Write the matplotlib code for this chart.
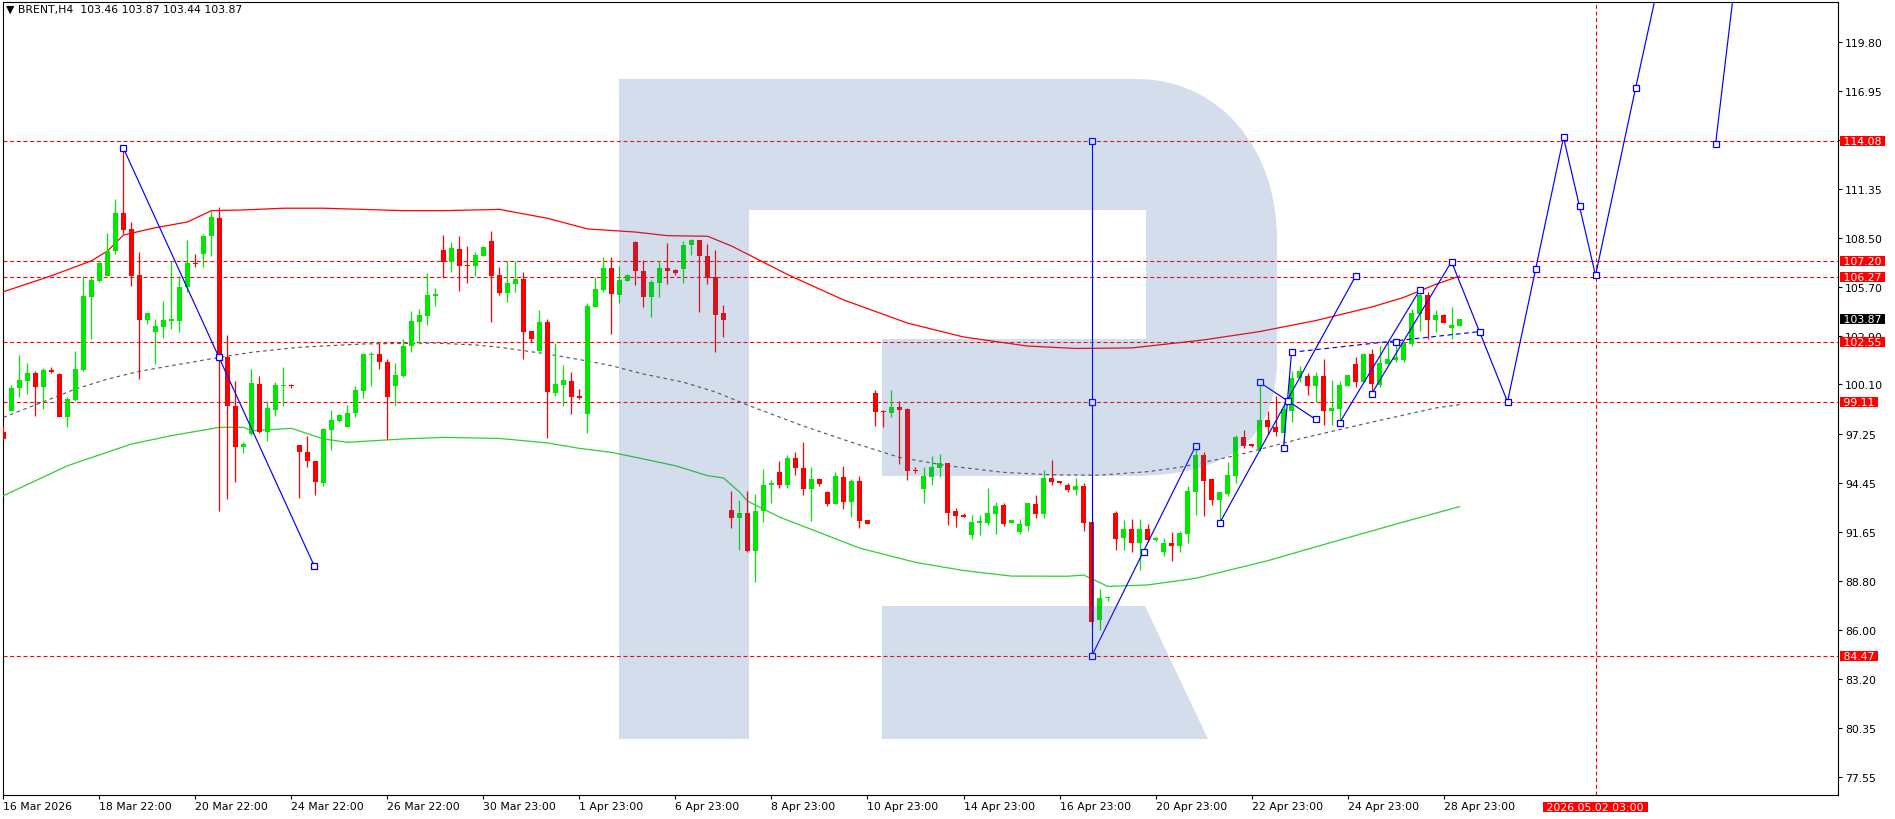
import numpy as np
import matplotlib.pyplot as plt
from matplotlib.path import Path
from matplotlib.patches import PathPatch

plt.rcParams["font.family"] = ["DejaVu Sans"]

W, H = 1895, 820
FONT = 7.8
RED = "#ff0000"
GREEN = "#00e600"
BLUE = "#0000ff"

# ── OHLC (H4 bars, index 0 = 16 Mar 2026) ─────────────
OPEN = [97.35, 98.59, 99.88, 100.32, 100.76, 99.97, 100.93, 100.70, 98.25, 99.21,
        100.93, 105.14, 106.06, 106.32, 107.79, 109.96, 109.04, 106.39, 103.82, 103.10,
        103.42, 103.77, 103.77, 105.68, 107.08, 107.60, 108.62, 109.67, 101.66, 98.85,
        96.49, 97.25, 100.13, 97.35, 98.65, 99.99, 100.07, 96.62, 96.20, 95.69,
        94.44, 97.48, 98.02, 97.67, 98.44, 99.74, 101.79, 101.85, 101.37, 100.03,
        100.57, 102.33, 103.67, 104.05, 105.20, 107.83, 107.12, 107.89, 106.97, 106.89,
        107.50, 108.35, 106.39, 105.36, 105.87, 106.16, 103.19, 102.04, 103.71, 99.61,
        100.07, 100.32, 99.44, 98.40, 104.57, 105.53, 106.79, 105.26, 106.06, 108.31,
        106.62, 105.14, 105.93, 106.79, 106.70, 106.74, 108.12, 108.40, 107.48, 106.29,
        104.21, 92.89, 92.43, 92.71, 90.55, 92.81, 94.30, 95.05, 94.32, 95.87,
        95.30, 94.09, 94.67, 93.90, 93.23, 94.78, 93.36, 94.53, 92.29, 99.61,
        98.58, 98.46, 98.81, 98.69, 95.19, 94.09, 94.80, 95.30, 95.59, 92.81,
        92.62, 91.47, 92.16, 92.14, 92.66, 93.19, 92.16, 91.60, 91.98, 93.23,
        92.66, 94.73, 94.55, 94.32, 94.05, 94.26, 92.20, 86.56, 87.81, 92.71,
        91.28, 91.79, 91.01, 91.79, 91.18, 90.49, 91.01, 90.83, 91.51, 93.94,
        96.05, 94.67, 93.48, 93.81, 94.86, 97.06, 96.68, 96.39, 98.06, 97.64,
        97.31, 98.59, 100.46, 100.60, 100.03, 100.60, 98.59, 98.69, 100.03, 101.28,
        100.26, 101.85, 100.07, 101.28, 101.51, 101.51, 102.43, 104.15, 105.26, 103.82,
        104.09, 103.35, 103.46]
HIGH = [97.73, 100.07, 101.79, 101.32, 100.89, 101.03, 101.09, 100.75, 99.36, 102.01,
        106.35, 106.35, 107.16, 108.81, 110.76, 113.67, 109.42, 107.70, 104.19, 103.86,
        104.91, 107.21, 106.35, 108.40, 107.60, 108.75, 110.09, 110.28, 102.94, 100.32,
        96.78, 100.99, 100.57, 99.17, 100.23, 101.12, 100.13, 96.62, 97.12, 95.72,
        97.58, 98.63, 98.40, 98.92, 99.99, 101.91, 101.95, 102.47, 101.56, 101.33,
        102.71, 104.31, 104.44, 106.49, 105.63, 108.69, 108.31, 108.65, 108.08, 107.73,
        108.08, 108.92, 106.83, 107.21, 107.21, 106.55, 103.19, 104.38, 103.86, 102.48,
        101.22, 100.83, 99.84, 104.78, 106.26, 107.44, 107.44, 106.93, 106.45, 108.36,
        107.25, 106.10, 107.21, 108.23, 106.74, 108.33, 108.46, 108.42, 108.17, 107.83,
        104.67, 94.00, 93.46, 94.00, 93.81, 95.24, 94.61, 95.69, 96.05, 96.20,
        96.78, 95.34, 94.73, 93.96, 95.07, 95.42, 94.67, 94.84, 92.29, 99.78,
        98.63, 99.78, 99.13, 98.75, 95.37, 95.37, 95.97, 96.10, 95.59, 93.00,
        92.71, 92.62, 92.62, 94.15, 93.33, 93.29, 92.31, 92.37, 93.29, 93.77,
        95.20, 95.76, 94.57, 94.42, 94.71, 94.44, 92.26, 88.35, 87.93, 92.81,
        92.31, 92.37, 92.37, 92.08, 91.32, 91.26, 91.60, 91.70, 94.25, 96.55,
        96.24, 94.71, 93.94, 95.66, 97.21, 97.48, 96.68, 100.23, 98.59, 99.46,
        99.02, 100.89, 101.18, 100.76, 100.80, 101.56, 100.36, 100.32, 100.64, 101.66,
        101.91, 102.14, 102.33, 102.62, 102.71, 102.47, 104.44, 105.49, 105.40, 104.38,
        104.15, 104.55, 103.87]
LOW = [96.97, 98.59, 99.40, 99.55, 98.31, 98.69, 100.76, 98.21, 97.64, 99.17,
       100.89, 102.71, 106.01, 106.32, 107.60, 108.75, 105.78, 100.41, 103.58, 101.28,
       102.75, 103.29, 103.13, 105.40, 106.83, 106.83, 107.50, 92.81, 93.52, 94.48,
       96.14, 97.20, 97.29, 96.87, 98.27, 98.88, 99.88, 93.56, 95.34, 93.77,
       94.28, 96.35, 97.96, 97.64, 98.21, 99.32, 99.99, 100.99, 96.97, 98.94,
       100.51, 101.98, 102.43, 103.52, 104.63, 106.20, 106.58, 105.49, 105.91, 106.35,
       107.50, 103.67, 105.24, 104.86, 105.43, 101.56, 102.52, 102.04, 97.02, 99.46,
       98.88, 98.40, 99.27, 97.31, 104.57, 105.43, 103.00, 104.78, 106.04, 105.82,
       104.57, 104.00, 105.14, 105.87, 106.39, 105.93, 107.54, 104.28, 105.87, 101.98,
       102.85, 91.85, 90.59, 90.49, 88.77, 92.21, 93.29, 94.15, 94.15, 94.90,
       93.77, 92.27, 94.29, 93.13, 93.23, 92.94, 92.50, 91.85, 92.08, 97.73,
       97.67, 98.25, 95.53, 94.63, 95.00, 93.29, 94.32, 94.77, 92.02, 91.93,
       92.50, 91.22, 91.47, 92.00, 91.51, 91.98, 92.16, 91.51, 91.70, 92.43,
       92.43, 94.32, 94.38, 93.94, 93.77, 91.70, 86.30, 86.01, 87.67, 90.59,
       90.59, 90.45, 89.46, 91.03, 91.12, 90.26, 89.97, 90.49, 91.01, 92.60,
       92.56, 93.17, 92.14, 93.67, 94.44, 96.43, 96.52, 96.29, 97.25, 97.16,
       96.78, 97.96, 100.23, 99.50, 99.11, 97.79, 97.79, 97.93, 100.03, 99.94,
       100.23, 99.55, 99.94, 101.28, 101.37, 101.41, 102.29, 103.19, 102.71, 103.10,
       103.63, 102.71, 103.44]
CLOSE = [96.97, 99.88, 100.36, 100.76, 99.97, 100.93, 100.83, 98.25, 99.27, 100.99,
         105.20, 106.10, 107.08, 107.79, 109.96, 109.00, 106.32, 103.82, 104.19, 103.44,
         103.82, 103.82, 105.68, 107.08, 107.02, 108.62, 109.71, 101.66, 98.85, 96.49,
         96.68, 100.19, 97.35, 98.73, 100.07, 100.07, 99.99, 96.20, 95.69, 94.48,
         97.54, 98.06, 98.36, 98.46, 99.78, 101.85, 101.85, 101.37, 99.40, 100.64,
         102.33, 103.77, 104.09, 105.24, 105.28, 107.12, 107.93, 106.93, 106.89, 107.54,
         108.02, 106.35, 105.36, 105.93, 106.16, 103.13, 102.71, 103.71, 99.69, 100.13,
         100.36, 99.38, 99.34, 104.63, 105.59, 106.79, 105.30, 106.10, 106.41, 106.64,
         105.14, 105.97, 106.79, 106.64, 106.51, 108.12, 108.42, 107.48, 106.24, 104.11,
         103.81, 92.43, 92.71, 90.51, 92.81, 94.32, 94.44, 94.32, 95.87, 95.28,
         94.09, 94.67, 94.38, 93.23, 94.84, 93.36, 94.55, 92.27, 92.08, 98.54,
         98.50, 98.81, 98.65, 95.14, 95.14, 94.84, 95.37, 95.57, 92.71, 92.56,
         92.50, 92.18, 92.27, 92.71, 93.13, 92.08, 92.31, 92.08, 93.29, 92.66,
         94.73, 94.51, 94.42, 94.05, 94.26, 92.14, 86.47, 87.83, 87.85, 91.22,
         91.79, 91.01, 91.79, 91.16, 91.26, 91.01, 90.83, 91.56, 93.96, 96.05,
         94.57, 93.48, 93.90, 94.90, 97.10, 96.58, 96.58, 98.06, 97.64, 97.35,
         98.69, 100.46, 100.86, 100.03, 100.60, 98.59, 98.73, 100.07, 100.64, 100.23,
         101.85, 100.13, 101.33, 101.56, 101.70, 102.47, 104.21, 105.26, 103.82, 104.09,
         103.65, 103.52, 103.87]

# ── envelope / moving average (read at sample bars) ──
RED_MA_X = [0, 6, 11, 13, 15, 19, 23, 26, 30, 35, 40, 50, 55, 62, 68, 73, 79, 83, 88,
            91, 98, 105, 113, 120, 128, 134, 141, 150, 157, 164, 171, 175, 179, 182]
RED_MA_Y = [105.43, 106.35, 107.21, 107.77, 108.69, 109.11, 109.44, 110.09, 110.13,
            110.23, 110.23, 110.09, 110.09, 110.16, 109.65, 109.04, 108.86, 108.65,
            108.62, 108.06, 106.42, 104.96, 103.63, 102.83, 102.31, 102.17, 102.20,
            102.66, 103.14, 103.77, 104.55, 105.10, 105.85, 106.33]
GREEN_MA_X = [0, 8, 16, 21, 27, 30, 31, 36, 40, 43, 50, 55, 62, 68, 72, 76, 80, 84, 88,
              90, 92, 93, 97, 101, 107, 114, 120, 126, 133, 135, 137, 138, 143, 149,
              158, 166, 175, 182]
GREEN_MA_Y = [93.71, 95.43, 96.68, 97.16, 97.64, 97.64, 97.44, 97.58, 96.97, 96.78,
              96.97, 97.06, 97.00, 96.74, 96.43, 96.20, 95.82, 95.43, 94.86, 94.73,
              93.92, 93.40, 92.48, 91.77, 90.70, 89.88, 89.41, 89.09, 89.08, 89.15,
              88.73, 88.50, 88.58, 88.96, 89.97, 91.03, 92.20, 93.08]
MID_MA_X = [0, 5, 9, 13, 17, 21, 27, 31, 37, 45, 54, 59, 62, 68, 73, 76, 80, 85, 89,
            93, 100, 106, 112, 118, 125, 131, 137, 143, 147, 154, 162, 170, 179, 182]
MID_MA_Y = [98.21, 99.11, 99.84, 100.41, 100.86, 101.18, 101.66, 101.95, 102.24,
            102.43, 102.48, 102.37, 102.24, 101.85, 101.45, 101.18, 100.70, 100.23,
            99.67, 98.92, 97.71, 96.78, 95.91, 95.43, 95.05, 94.91, 94.89, 95.09,
            95.34, 96.01, 96.97, 97.83, 98.75, 98.94]

# ── horizontal levels, forecast date ─────────────────
LEVELS = [114.08, 107.20, 106.27, 102.55, 99.11, 84.47]
LAST_PRICE = 103.87
FORECAST_BAR = 199
FORECAST_LABEL = "2026.05.02 03:00"

# ── drawn trend lines (bar, price) ───────────────────
TREND_LINES = [
    [(15, 113.67), (38.84, 89.68)],
    [(136, 84.47), (136, 114.08)],
    [(136, 84.47), (149, 96.55)],
    [(152, 92.12), (169, 106.32)],
    [(157, 100.23), (164, 98.10)],
    [(160, 96.43), (161, 101.95)],
    [(167, 97.89), (177, 105.51)],
    [(171, 99.55), (181, 107.16), (188, 99.11), (195, 114.30), (199, 106.37),
     (204, 117.12), (209, 127.62)],
    [(214, 113.90), (218, 129.34)],
]
DASHED_LINE = [(161, 101.95), (184.5, 103.14)]
MARKERS = [(15, 113.67), (27, 101.66), (38.84, 89.68), (136, 114.08), (136, 99.11),
           (136, 84.47), (142.5, 90.45), (149, 96.55), (152, 92.12), (160.5, 99.17),
           (169, 106.32), (157, 100.23), (164, 98.10), (160, 96.43), (161, 101.95),
           (174, 102.52), (184.5, 103.14), (167, 97.89), (177, 105.51), (171, 99.55),
           (181, 107.16), (188, 99.11), (191.5, 106.72), (195, 114.30), (197, 110.34),
           (199, 106.37), (204, 117.12), (214, 113.90)]

# ── time axis ────────────────────────────────────────
TICK_BARS = list(range(0, 181, 12))
TICK_LABELS = ["16 Mar 2026", "18 Mar 22:00", "20 Mar 22:00", "24 Mar 22:00",
               "26 Mar 22:00", "30 Mar 23:00", "1 Apr 23:00", "6 Apr 23:00",
               "8 Apr 23:00", "10 Apr 23:00", "14 Apr 23:00", "16 Apr 23:00",
               "20 Apr 23:00", "22 Apr 23:00", "24 Apr 23:00", "28 Apr 23:00"]
PRICE_TICKS = [77.55, 80.35, 83.20, 86.00, 88.80, 91.65, 94.45, 97.25, 100.10,
               102.90, 105.70, 108.50, 111.35, 114.15, 116.95, 119.80]
HIDDEN_TICK = 114.15   # label sits under the 114.08 level box

fig = plt.figure(figsize=(W / 100, H / 100), dpi=100)
fig.patch.set_facecolor("white")
ax = fig.add_axes([3 / W, (H - 796) / H, 1835 / W, 793 / H])
ax.set_xlim(-0.06, 229.31)
ax.set_ylim(76.51, 122.08)

# ── candles ──────────────────────────────────────────
o, h, l, c = (np.array(a) for a in (OPEN, HIGH, LOW, CLOSE))
bars = np.arange(len(o))
cols = np.where(c >= o, GREEN, RED)
ax.vlines(bars, l, h, colors=cols, lw=0.9, zorder=4)
ax.bar(bars, np.maximum(np.abs(c - o), 0.07), bottom=np.minimum(o, c),
       width=0.62, color=cols, lw=0, zorder=5)

# ── indicator lines ──────────────────────────────────
ax.plot(RED_MA_X, RED_MA_Y, color=RED, lw=0.9, zorder=3)
ax.plot(GREEN_MA_X, GREEN_MA_Y, color="#32cd32", lw=0.9, zorder=3)
ax.plot(MID_MA_X, MID_MA_Y, color="#5a5a5a", lw=0.85, ls=(0, (3, 3)), zorder=3)

# ── levels ───────────────────────────────────────────
for lv in LEVELS:
    ax.axhline(lv, color=RED, lw=0.8, ls=(0, (3.6, 2.4)), zorder=2)
ax.axvline(FORECAST_BAR, color=RED, lw=0.8, ls=(0, (3.6, 2.4)), zorder=2)

# ── trend lines / forecast ───────────────────────────
for seg in TREND_LINES:
    xs, ys = zip(*seg)
    ax.plot(xs, ys, color=BLUE, lw=0.85, zorder=6)
xs, ys = zip(*DASHED_LINE)
ax.plot(xs, ys, color=BLUE, lw=0.85, ls=(0, (4, 3)), zorder=6)
mx, my = zip(*MARKERS)
ax.plot(mx, my, ls="none", marker="s", ms=4, mfc="white", mec=BLUE, mew=0.9, zorder=7)

# ── watermark "R" (axes fraction, from pixel outline) ─
def px(x, y):
    return ((x - 3) / 1835, (796 - y) / 793)

M, L_, C4, CL = Path.MOVETO, Path.LINETO, Path.CURVE4, Path.CLOSEPOLY
outline = [((619, 740), M), ((619, 80), L_), ((1136, 80), L_),
           ((1220, 80), C4), ((1277, 150), C4), ((1277, 240), C4),
           ((1277, 360), L_), ((1277, 440), C4), ((1230, 477), C4), ((1130, 477), C4),
           ((882, 477), L_), ((882, 340), L_), ((1146, 340), L_), ((1146, 211), L_),
           ((749, 211), L_), ((749, 740), L_), ((619, 740), CL),
           ((882, 607), M), ((1145, 607), L_), ((1208, 740), L_), ((882, 740), L_),
           ((882, 607), CL)]
verts = [px(*p) for p, _ in outline]
codes = [cd for _, cd in outline]
ax.add_patch(PathPatch(Path(verts, codes), transform=ax.transAxes,
                       facecolor="#3b68a4", alpha=0.22, lw=0, zorder=20))

# ── axes styling ─────────────────────────────────────
for sp in ax.spines.values():
    sp.set_color("black")
    sp.set_linewidth(0.8)
ax.yaxis.tick_right()
ax.set_yticks(PRICE_TICKS)
ax.set_yticklabels(["" if v == HIDDEN_TICK else f"{v:.2f}" for v in PRICE_TICKS])
ax.tick_params(axis="y", direction="out", length=3, width=0.8, pad=2.2,
               labelsize=FONT, colors="black")
ax.set_xticks(TICK_BARS)
ax.set_xticklabels(TICK_LABELS, ha="left")
ax.tick_params(axis="x", direction="out", length=3, width=0.8, pad=1.5,
               labelsize=FONT, colors="black")

# price boxes on the right scale
for lv in LEVELS:
    ax.annotate(f" {lv:.2f} ", xy=(1, lv), xycoords=("axes fraction", "data"),
                xytext=(1.5, 0), textcoords="offset points", ha="left", va="center",
                fontsize=FONT, color="white", annotation_clip=False, zorder=30,
                bbox=dict(boxstyle="square,pad=0", fc=RED, ec="none"))
ax.annotate(f" {LAST_PRICE:.2f} ", xy=(1, LAST_PRICE), xycoords=("axes fraction", "data"),
            xytext=(1.5, 0), textcoords="offset points", ha="left", va="center",
            fontsize=FONT, color="white", annotation_clip=False, zorder=30,
            bbox=dict(boxstyle="square,pad=0", fc="black", ec="none"))
ax.annotate(f" {FORECAST_LABEL} ", xy=(FORECAST_BAR, 0), xycoords=("data", "axes fraction"),
            xytext=(0, -8.3), textcoords="offset points", ha="center", va="center",
            fontsize=FONT, color="white", annotation_clip=False, zorder=30,
            bbox=dict(boxstyle="square,pad=0", fc=RED, ec="none"))

fig.text(6 / W, 1 - 10 / H, "\u25bc BRENT,H4  103.46 103.87 103.44 103.87",
         fontsize=FONT, va="center", ha="left", color="black")

fig.savefig("out.png", dpi=100, facecolor="white")
